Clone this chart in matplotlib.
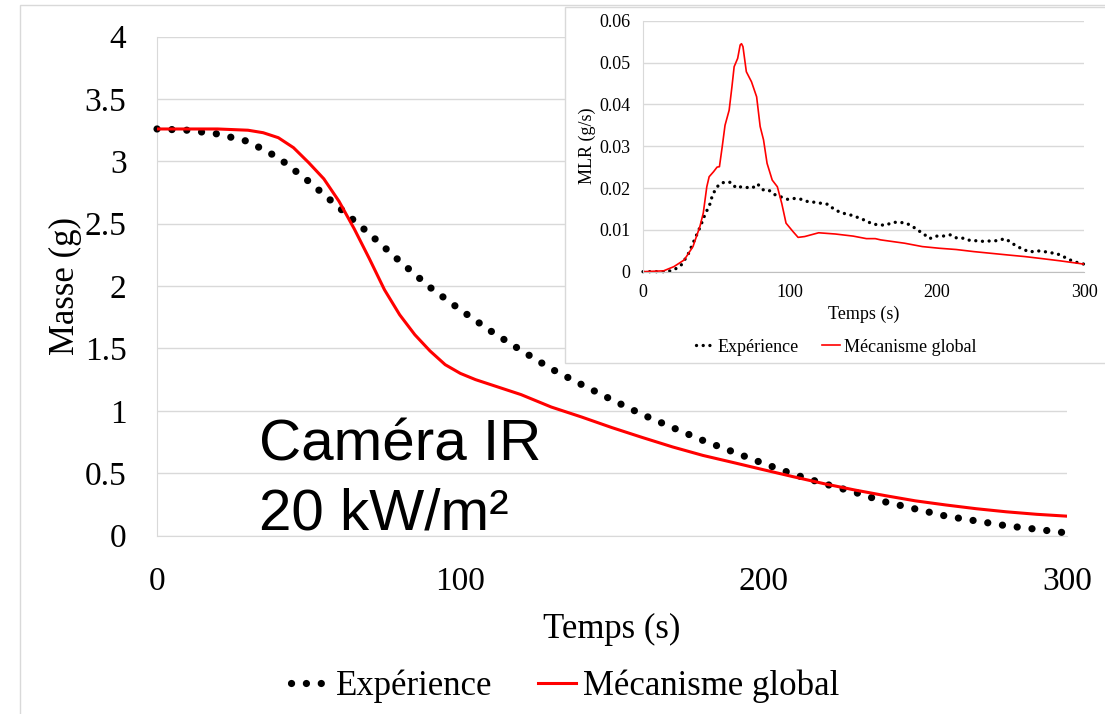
import matplotlib
matplotlib.use("Agg")
import matplotlib.pyplot as plt
from matplotlib.patches import Rectangle
from matplotlib.ticker import FuncFormatter

# main chart: mass vs time
exp_t = [0, 10, 20, 30, 40, 50, 60, 70, 80, 90, 100, 110, 120, 130, 140, 150, 160,
         170, 180, 190, 200, 210, 220, 230, 240, 250, 260, 270, 280, 290, 300]
exp_m = [3.26, 3.25, 3.22, 3.16, 3.03, 2.84, 2.63, 2.42, 2.20, 1.99, 1.81, 1.64, 1.485,
         1.336, 1.21, 1.088, 0.97, 0.865, 0.762, 0.67, 0.577, 0.49, 0.415, 0.347, 0.27,
         0.213, 0.156, 0.117, 0.078, 0.05, 0.02]

mod_t = [0, 10, 20, 30, 35, 40, 45, 50, 55, 60, 65, 70, 75, 80, 85, 90, 95, 100, 105,
         110, 120, 130, 140, 150, 160, 170, 180, 190, 200, 210, 220, 230, 240, 250, 260,
         270, 280, 290, 300]
mod_m = [3.26, 3.26, 3.26, 3.25, 3.23, 3.19, 3.11, 2.99, 2.86, 2.68, 2.46, 2.22, 1.97,
         1.77, 1.61, 1.48, 1.37, 1.30, 1.25, 1.21, 1.13, 1.03, 0.95, 0.865, 0.786, 0.71,
         0.642, 0.585, 0.527, 0.47, 0.415, 0.365, 0.32, 0.278, 0.245, 0.215, 0.19, 0.17,
         0.155]

# inset: MLR vs time
mlr_exp_t = [0, 16, 21, 26, 30.5, 35, 39, 42, 45.7, 47, 49.7, 52.7, 56.7, 60.2, 63.3,
             66.8, 71.5, 74.5, 77.8, 82, 85.5, 90.2, 93.7, 98.4, 103, 107.8, 112.5, 117,
             122, 126, 130, 134.8, 139.4, 144, 147.6, 151.9, 155.8, 160.5, 165, 170,
             174.6, 179, 183, 187.5, 191, 195, 199, 204, 209, 213.7, 218, 223, 227.8,
             232.5, 237, 241.4, 246, 249.6, 254, 259, 263, 268, 273, 277.7, 281, 286,
             290.6, 295.3, 300]
mlr_exp = [0, 0, 0.0004, 0.0016, 0.004, 0.0076, 0.0108, 0.0135, 0.0163, 0.018, 0.02,
           0.0211, 0.0215, 0.0213, 0.02, 0.0203, 0.0201, 0.02, 0.021, 0.0195, 0.0195,
           0.0183, 0.0179, 0.0173, 0.0175, 0.0173, 0.0167, 0.0166, 0.0163, 0.0161,
           0.0149, 0.0141, 0.0137, 0.0133, 0.0127, 0.0122, 0.0114, 0.0112, 0.0111,
           0.0118, 0.0118, 0.0116, 0.0109, 0.0098, 0.009, 0.0079, 0.0085, 0.0085,
           0.0088, 0.008, 0.008, 0.0074, 0.0074, 0.0072, 0.0074, 0.0074, 0.0079,
           0.0072, 0.0061, 0.0053, 0.0047, 0.005, 0.0048, 0.0045, 0.0044, 0.0036,
           0.0028, 0.0022, 0.0018]

mlr_mod_t = [0, 14, 21, 28, 34, 38.7, 41, 43.4, 45, 48, 50.4, 52, 53.9, 55.8, 58.6, 60.5,
             62, 64.4, 66.1, 67, 68, 70.3, 73.8, 77.3, 79.7, 82, 84.4, 87.9, 91.4, 94.4,
             97.3, 102, 105.5, 110, 119.5, 131, 143, 152, 158, 161.7, 178, 190, 201.5,
             213, 225, 248, 260, 272, 283.6, 300]
mlr_mod = [0, 0.0002, 0.0012, 0.0028, 0.006, 0.0108, 0.014, 0.0203, 0.0227, 0.0239,
           0.025, 0.0251, 0.0299, 0.035, 0.0386, 0.0442, 0.049, 0.051, 0.0542, 0.0545,
           0.0538, 0.0478, 0.0454, 0.0418, 0.0347, 0.0315, 0.0259, 0.0219, 0.0203,
           0.0163, 0.0116, 0.0096, 0.0082, 0.0084, 0.0093, 0.009, 0.0085, 0.0079,
           0.0079, 0.0076, 0.0068, 0.006, 0.0056, 0.0053, 0.0048, 0.004, 0.0036,
           0.0031, 0.0026, 0.0018]

plt.rcParams['font.family'] = ['Liberation Serif', 'DejaVu Serif']
grid_col = '#d9d9d9'

fig = plt.figure(figsize=(11.05, 7.14), dpi=100)

# outer chart border
fig.add_artist(Rectangle((20 / 1105, -0.1), 1.2, 1.093, transform=fig.transFigure,
                         facecolor='none', edgecolor=grid_col, lw=1, zorder=0.5))

ax = fig.add_axes([0.1421, 0.25, 0.8235, 0.6986])
ax.plot(exp_t, exp_m, color='black', lw=5.2, linestyle=(0, (0.01, 2.05)),
        dash_capstyle='round', label='Expérience', clip_on=False, zorder=3)
ax.plot(mod_t, mod_m, color='red', lw=2.2, label='Mécanisme global', zorder=3)
ax.set_xlim(0, 300)
ax.set_ylim(0, 4)
ax.set_xticks([0, 100, 200, 300])
ax.set_yticks([0, 0.5, 1, 1.5, 2, 2.5, 3, 3.5, 4])
ax.yaxis.set_major_formatter(FuncFormatter(lambda v, p: '%g' % v))
ax.tick_params(length=0, labelsize=24, pad=22)
ax.grid(axis='y', color=grid_col, lw=1)
for s in ['top', 'right']:
    ax.spines[s].set_visible(False)
ax.spines['left'].set_color(grid_col)
ax.spines['bottom'].set_color(grid_col)
ax.set_xlabel('Temps (s)', fontsize=25, labelpad=12)
ax.set_ylabel('Masse (g)', fontsize=25, labelpad=2)
ax.text(33.5, 0.6, 'Caméra IR', fontsize=42, family='Liberation Sans', va='baseline')
ax.text(33.5, 0.045, '20 kW/m²', fontsize=42, family='Liberation Sans', va='baseline')

h, l = ax.get_legend_handles_labels()
fig.legend(h, l, loc='center', bbox_to_anchor=(565 / 1105, 1 - 686 / 714), ncol=2,
           frameon=False, fontsize=25, handlelength=1.1, handletextpad=0.2,
           columnspacing=1.3, borderpad=0)

# inset box
fig.add_artist(Rectangle((565 / 1105, 1 - 363 / 714), 1, 356 / 714,
                         transform=fig.transFigure, facecolor='white',
                         edgecolor=grid_col, lw=1, zorder=1))

ax2 = fig.add_axes([0.5819, 0.6195, 0.3991, 0.3515], zorder=2)
ax2.patch.set_alpha(0)
ax2.plot(mlr_exp_t, mlr_exp, color='black', lw=2.4, linestyle=(0, (0.01, 2.0)),
         dash_capstyle='round', label='Expérience', clip_on=False)
ax2.plot(mlr_mod_t, mlr_mod, color='red', lw=1.2, label='Mécanisme global')
ax2.set_xlim(0, 300)
ax2.set_ylim(0, 0.06)
ax2.set_xticks([0, 100, 200, 300])
ax2.set_yticks([0, 0.01, 0.02, 0.03, 0.04, 0.05, 0.06])
ax2.yaxis.set_major_formatter(FuncFormatter(lambda v, p: '%g' % round(v, 3)))
ax2.tick_params(length=0, labelsize=13, pad=9)
ax2.grid(axis='y', color=grid_col, lw=1)
for s in ['top', 'right']:
    ax2.spines[s].set_visible(False)
ax2.spines['left'].set_color(grid_col)
ax2.spines['bottom'].set_color('#bfbfbf')
ax2.set_xlabel('Temps (s)', fontsize=13, labelpad=3)
ax2.set_ylabel('MLR (g/s)', fontsize=13, labelpad=2)

h2, l2 = ax2.get_legend_handles_labels()
fig.legend(h2, l2, loc='center', bbox_to_anchor=(836 / 1105, 1 - 347 / 714), ncol=2,
           frameon=False, fontsize=13, handlelength=1.0, handletextpad=0.2,
           columnspacing=1.3, borderpad=0)

fig.savefig('out.png', dpi=100)
